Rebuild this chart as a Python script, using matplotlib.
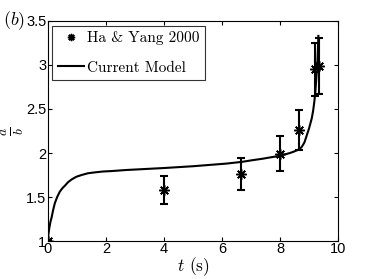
import numpy as np
import matplotlib.pyplot as plt

plt.rcParams['mathtext.fontset'] = 'cm'
plt.rcParams['font.family'] = 'Liberation Sans'

# measured points (Ha & Yang 2000)
t_exp = [0.0, 4.0, 6.67, 8.0, 8.67, 9.2, 9.35]
ab_exp = [1.0, 1.58, 1.76, 1.99, 2.26, 2.95, 2.99]
err_exp = [0.0, 0.16, 0.18, 0.2, 0.23, 0.3, 0.32]

# model curve
t_mod = [0.0, 0.02, 0.05, 0.09, 0.13, 0.18, 0.24, 0.32, 0.41, 0.5, 0.59, 0.7,
         0.82, 0.98, 1.16, 1.38, 1.62, 1.9, 2.2, 2.7, 3.34, 4.03, 5.01, 6.16,
         6.7, 7.08, 7.4, 7.66, 7.85, 8.0, 8.18, 8.34, 8.47, 8.58, 8.67, 8.75,
         8.84, 8.92, 9.0, 9.09, 9.14, 9.18, 9.21, 9.23, 9.25, 9.27, 9.29, 9.3,
         9.31, 9.32]
ab_mod = [1.0, 1.08, 1.15, 1.22, 1.27, 1.35, 1.43, 1.5, 1.56, 1.6, 1.63, 1.67,
          1.70, 1.73, 1.75, 1.77, 1.78, 1.79, 1.795, 1.807, 1.818, 1.83, 1.85, 1.88,
          1.9, 1.92, 1.935, 1.95, 1.96, 1.97, 1.985, 2.0, 2.015, 2.03, 2.045, 2.07,
          2.12, 2.2, 2.28, 2.39, 2.48, 2.58, 2.67, 2.76, 2.85, 2.95, 3.05, 3.14,
          3.23, 3.33]

fig = plt.figure(figsize=(3.74, 2.79), dpi=100)
ax = fig.add_axes([0.128, 0.136, 0.776, 0.789])

ax.errorbar(t_exp, ab_exp, yerr=err_exp, fmt='none', ecolor='black',
            elinewidth=1.5, capsize=3, capthick=1.5)
ax.plot(t_exp, ab_exp, linestyle='none', marker=(8, 2, 0), markersize=7.5,
        markeredgewidth=1.1, color='black', label='Ha & Yang 2000')
ax.plot(t_mod, ab_mod, color='black', linewidth=1.5, label='Current Model')

ax.set_xlim(0, 10)
ax.set_ylim(1, 3.5)
ax.set_xticks([0, 2, 4, 6, 8, 10])
ax.set_yticks([1, 1.5, 2, 2.5, 3, 3.5])
ax.set_yticklabels(['1', '1.5', '2', '2.5', '3', '3.5'])
ax.tick_params(direction='in', top=True, right=True, labelsize=10.5, length=3, pad=1)

ax.set_xlabel(r'$t$ (s)', fontsize=12.5, labelpad=-1, family='cmr10')
ax.set_ylabel(r'$\frac{a}{b}$', fontsize=14, va='center')
ax.yaxis.set_label_coords(-0.122, 0.5)

leg = ax.legend(loc='upper left', prop={'family': 'cmr10', 'size': 11},
                frameon=True, fancybox=False, markerscale=0.7,
                edgecolor='black', handlelength=1.7, handletextpad=0.2,
                labelspacing=1.05, borderaxespad=0.3, borderpad=0.35)
leg.get_frame().set_linewidth(0.8)

fig.text(0.008, 0.925, r'$(b)$', fontsize=13, va='center')

fig.savefig('out.png', dpi=100)
